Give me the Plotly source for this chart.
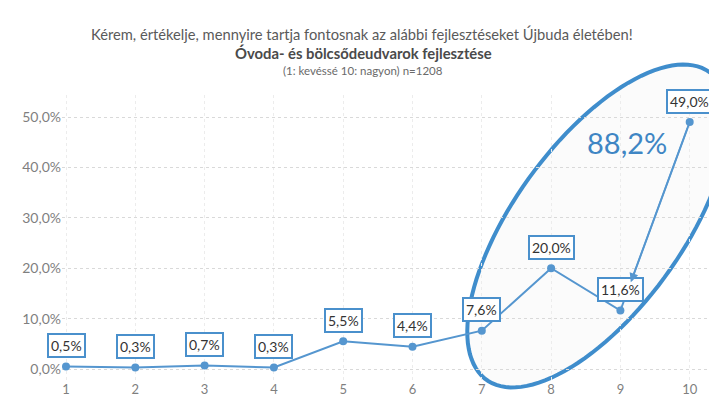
import numpy as np
import plotly.graph_objects as go

# Survey: importance of the development on a 1-10 scale (n=1208)
categories = [1, 2, 3, 4, 5, 6, 7, 8, 9, 10]
shares = [0.5, 0.3, 0.7, 0.3, 5.5, 4.4, 7.6, 20.0, 11.6, 49.0]
y_ticks = [0, 10, 20, 30, 40, 50]
y_tick_labels = ["0,0%", "10,0%", "20,0%", "30,0%", "40,0%", "50,0%"]
top_group = [7, 8, 9, 10]
top_total = round(sum(s for c, s in zip(categories, shares) if c in top_group), 1)

W, H = 709, 410
ML, MR, MT, MB = 62, 0, 95, 30
PW, PH = W - ML - MR, H - MT - MB

BLUE = "#4a90cc"
LINE_BLUE = "#5596cf"
GREY = "#7f7f7f"
FONT = "Lato, Open Sans, sans-serif"


def pct(v):
    return f"{v:.1f}".replace(".", ",") + "%"


fig = go.Figure()

fig.add_trace(go.Scatter(
    x=categories, y=shares, mode="lines+markers",
    line=dict(color=LINE_BLUE, width=2),
    marker=dict(color=LINE_BLUE, size=8),
    cliponaxis=False, hoverinfo="skip", showlegend=False,
))

# boxed value labels above each point
for c, s in zip(categories, shares):
    fig.add_annotation(
        x=c, y=s, text=pct(s), showarrow=False, yshift=21,
        font=dict(family=FONT, size=14, color="#333333"),
        bgcolor="white", bordercolor=BLUE, borderwidth=2, borderpad=2,
    )

# ellipse around the top group, built in pixel space and mapped to paper coords
cx, cy, a, b, ang = 598, 226, 190, 84, np.deg2rad(54)
t = np.linspace(0, 2 * np.pi, 120)
ex = cx + a * np.cos(t) * np.cos(ang) - b * np.sin(t) * np.sin(ang)
ey = cy - a * np.cos(t) * np.sin(ang) - b * np.sin(t) * np.cos(ang)
px = (ex - ML) / PW
py = (H - MB - ey) / PH
path = "M " + " L ".join(f"{u:.4f},{v:.4f}" for u, v in zip(px, py)) + " Z"
fig.add_shape(type="path", path=path, xref="paper", yref="paper",
              line=dict(color="#3f8dcc", width=4),
              fillcolor="rgba(0,0,0,0.015)", layer="between")

# arrowhead on the segment from 10 back toward 9
i9, i10 = categories.index(9), categories.index(10)
frac = 0.15
fig.add_annotation(
    x=categories[i9] + frac * (categories[i10] - categories[i9]),
    y=shares[i9] + frac * (shares[i10] - shares[i9]),
    ax=categories[i10], ay=shares[i10], axref="x", ayref="y",
    showarrow=True, arrowhead=2, arrowsize=1.2, arrowwidth=1.5,
    arrowcolor=LINE_BLUE, text="", startstandoff=5,
)

fig.add_annotation(
    x=9.1, y=45.0, text=pct(top_total), showarrow=False,
    font=dict(family=FONT, size=29, color="#3f86c4"),
)

# titles
def title_line(text, xpix, ypix, size, color):
    fig.add_annotation(x=(xpix - ML) / PW, y=(H - MB - ypix) / PH,
                       xref="paper", yref="paper", xanchor="center", yanchor="middle",
                       text=text, showarrow=False,
                       font=dict(family=FONT, size=size, color=color))


title_line("Kérem, értékelje, mennyire tartja fontosnak az alábbi fejlesztéseket Újbuda életében!",
           362, 34, 14.7, "#5a5a5a")
title_line("<b>Óvoda- és bölcsődeudvarok fejlesztése</b>", 363, 53, 14.8, "#4a4a4a")
title_line("(1: kevéssé 10: nagyon) n=1208", 363, 71, 11.5, "#6a6a6a")

px_per_x = 69.3
px_per_y = 5.04
x0 = 1 - (66 - ML) / px_per_x
y0 = -(H - MB - 369) / px_per_y

fig.update_layout(
    width=W, height=H,
    margin=dict(l=ML, r=MR, t=MT, b=MB),
    paper_bgcolor="white", plot_bgcolor="white",
    xaxis=dict(range=[x0, x0 + PW / px_per_x], tickvals=categories,
               ticktext=[str(c) for c in categories],
               showgrid=True, gridcolor="#ececec", griddash="dot", gridwidth=1,
               zeroline=False, showline=False,
               tickfont=dict(family=FONT, size=13, color=GREY)),
    yaxis=dict(range=[y0, y0 + PH / px_per_y], tickvals=y_ticks, ticktext=y_tick_labels,
               showgrid=True, gridcolor="#d9d9d9", griddash="dot", gridwidth=1,
               zeroline=False, showline=False,
               tickfont=dict(family=FONT, size=14, color=GREY)),
)

fig.write_html("out.html")
